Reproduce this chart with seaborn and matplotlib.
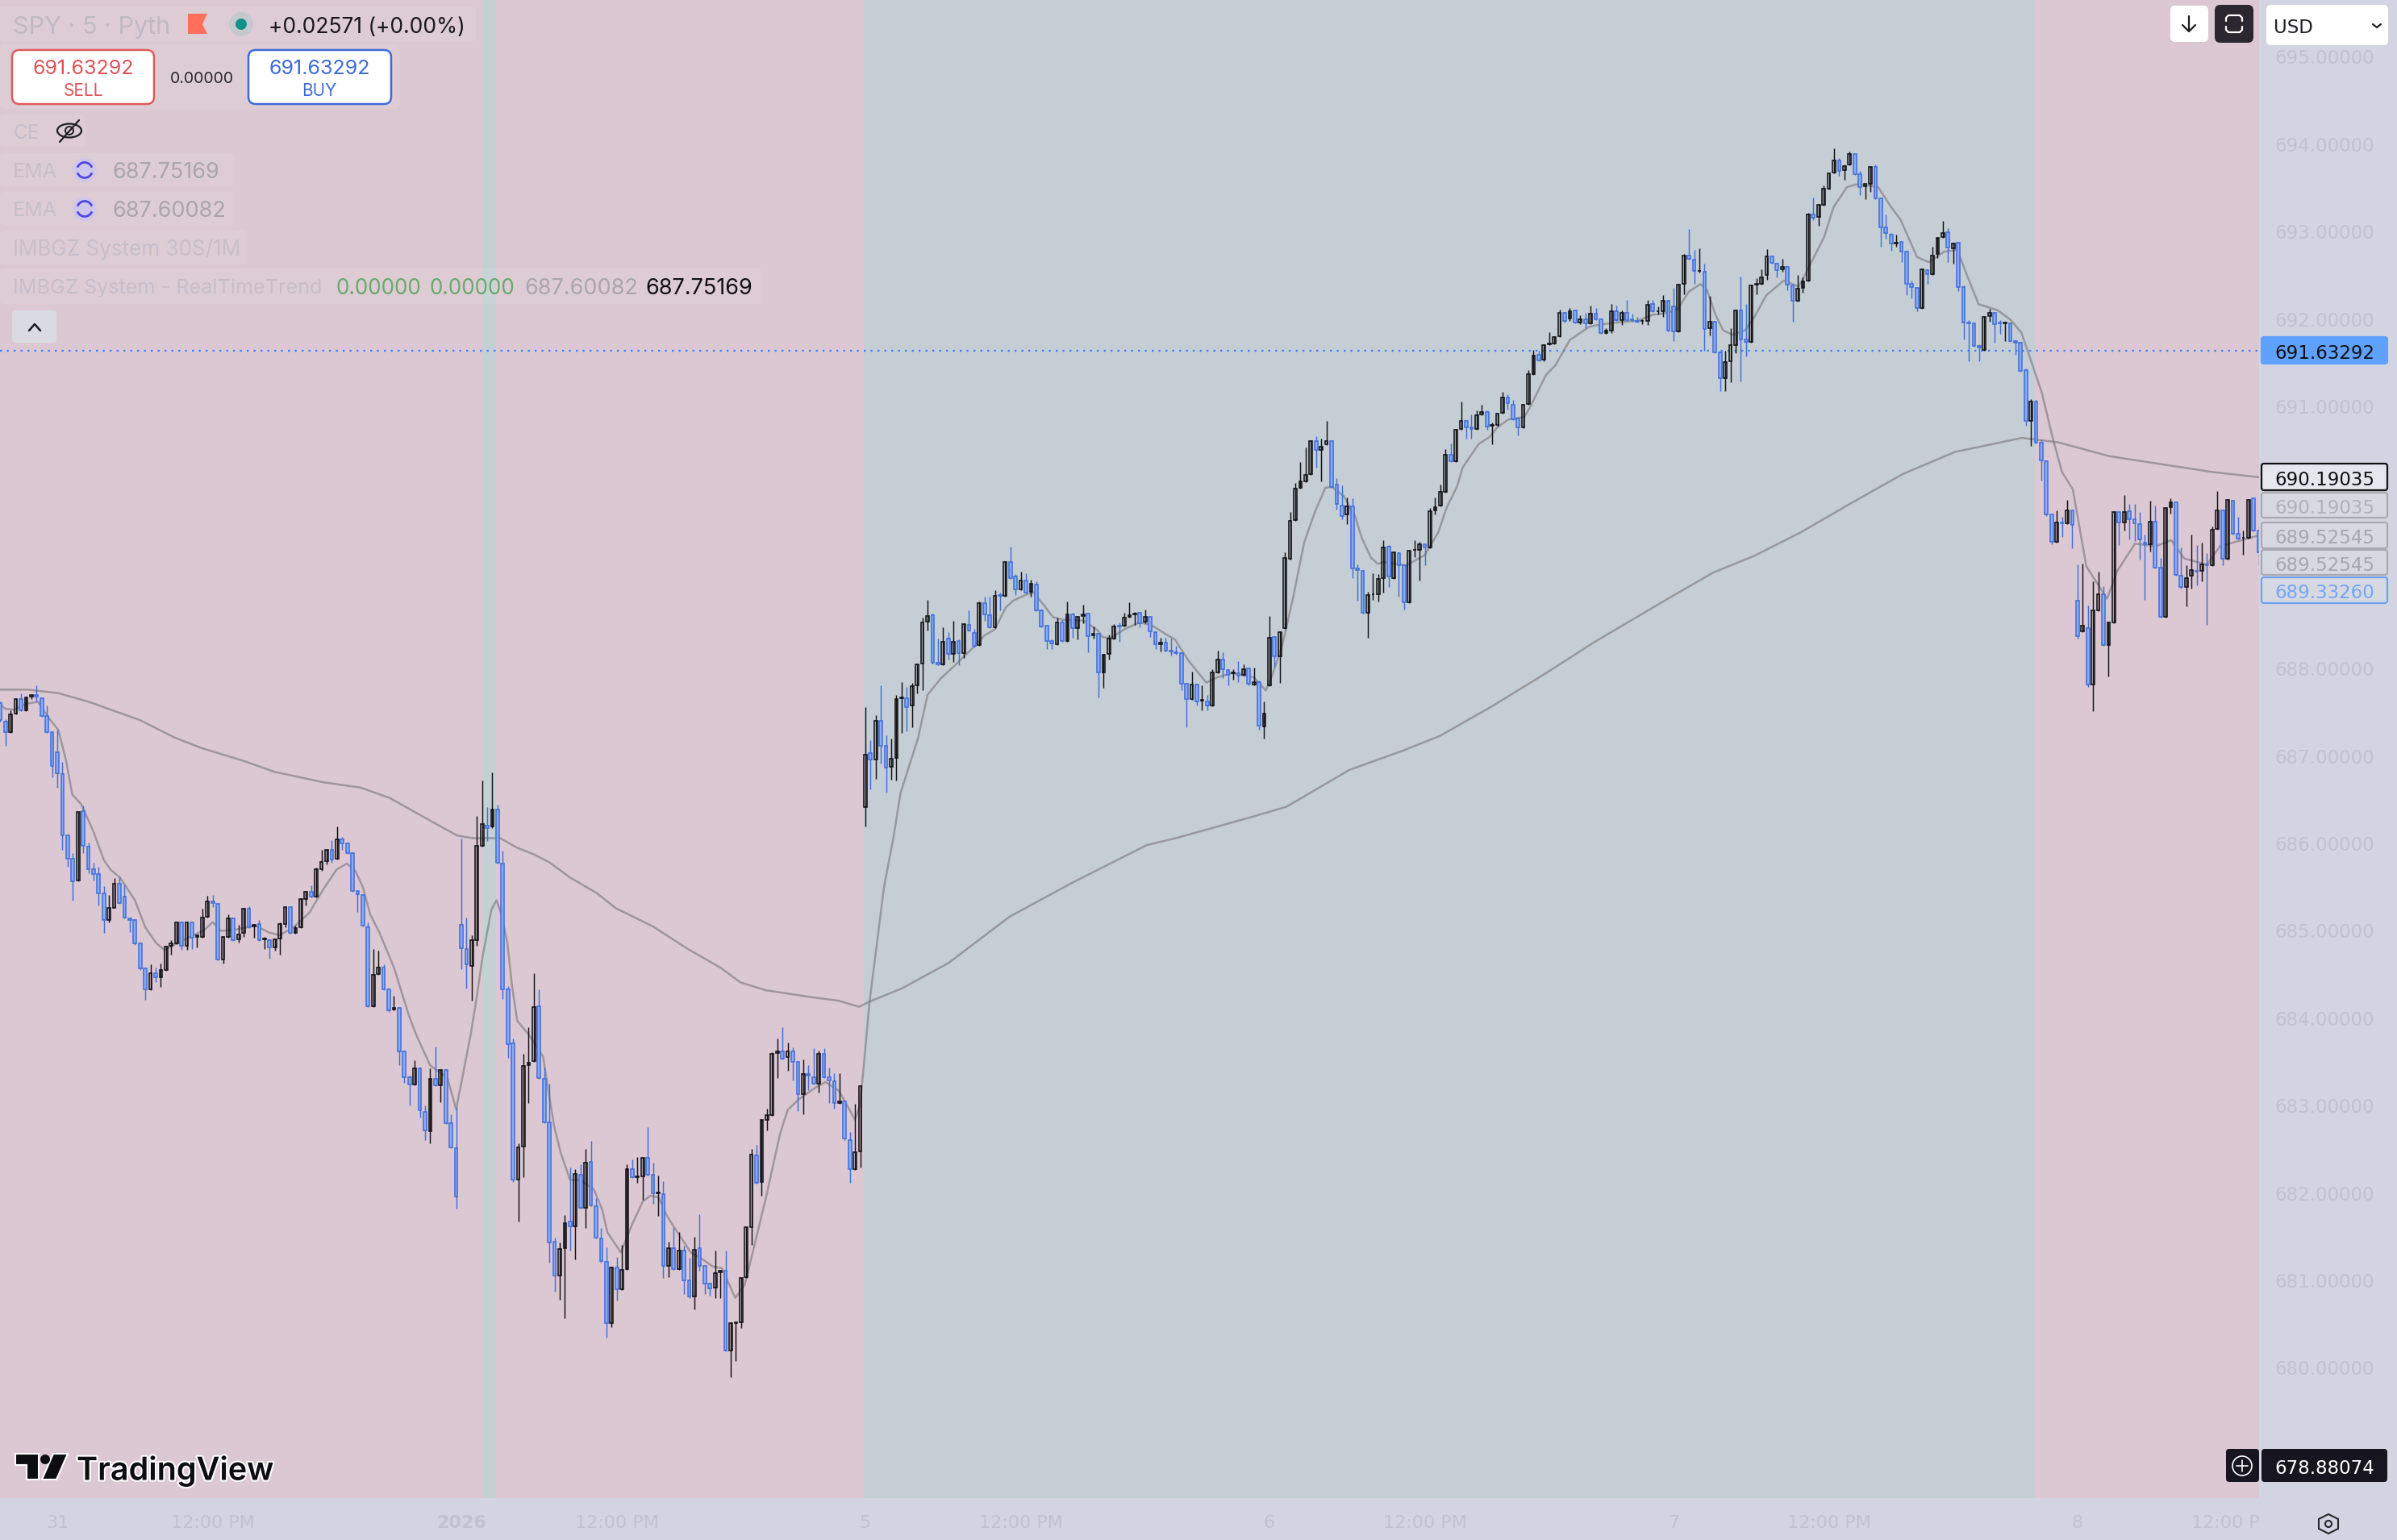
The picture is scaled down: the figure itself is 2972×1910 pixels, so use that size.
import numpy as np
import matplotlib
matplotlib.use("Agg")
import matplotlib.pyplot as plt
import matplotlib.patheffects as pe
from matplotlib.patches import FancyBboxPatch, Circle, Polygon, Ellipse, Arc
from matplotlib.transforms import Bbox
import seaborn as sns

# 5 minute bars
opens = [
    687.61,687.39,687.27,687.49,687.65,687.52,687.68,687.70,687.66,687.46,
    687.27,687.04,686.79,686.09,685.83,685.58,686.37,685.96,685.71,685.65,
    685.43,685.12,685.26,685.54,685.39,685.14,685.12,684.86,684.57,684.33,
    684.52,684.47,684.55,684.83,684.86,685.10,684.83,685.10,684.93,684.93,
    685.16,685.34,685.31,684.67,684.93,685.14,684.90,684.98,685.25,685.05,
    685.08,684.90,684.89,684.81,684.91,685.08,685.27,684.98,685.04,685.36,
    685.45,685.39,685.71,685.80,685.93,685.83,686.05,686.00,685.89,685.46,
    685.41,685.04,684.14,684.51,684.58,684.33,684.10,684.12,683.62,683.33,
    683.24,683.43,682.93,682.71,683.31,683.23,683.41,682.80,682.51,685.07,
    684.79,684.60,684.89,685.97,686.20,686.19,686.39,685.77,684.33,683.71,
    682.15,682.53,683.46,683.51,684.14,683.31,682.81,681.44,681.06,681.37,
    681.67,681.62,682.21,681.83,682.36,681.85,681.48,681.21,680.51,681.15,
    680.90,681.13,682.27,682.18,682.19,682.40,682.21,682.00,681.99,681.17,
    681.37,681.13,681.34,681.00,680.82,681.37,681.17,680.96,680.92,681.09,
    681.11,680.20,680.51,680.52,681.04,681.61,682.43,682.13,682.84,682.89,
    683.60,683.62,683.56,683.62,683.50,683.13,683.36,683.33,683.25,683.59,
    683.33,683.28,683.03,683.05,682.61,682.27,682.48,686.42,687.03,686.96,
    687.40,687.12,686.88,686.98,687.66,687.66,687.58,687.81,688.06,688.54,
    688.61,688.07,688.05,688.34,688.17,688.32,688.18,688.50,688.41,688.27,
    688.75,688.61,688.47,688.84,688.83,689.22,689.05,688.91,689.01,688.88,
    688.96,688.67,688.49,688.32,688.28,688.53,688.32,688.62,688.46,688.60,
    688.63,688.38,688.40,687.96,688.17,688.34,688.49,688.49,688.59,688.62,
    688.64,688.54,688.59,688.42,688.28,688.30,688.21,688.19,688.18,687.83,
    687.65,687.82,687.63,687.62,687.58,687.96,688.10,687.98,687.95,687.95,
    687.93,688.00,687.82,687.85,687.34,687.81,688.36,688.14,688.46,689.26,
    689.70,690.07,690.14,690.23,690.60,690.50,690.57,690.60,690.11,689.87,
    689.76,689.86,689.15,689.12,688.64,688.85,688.85,689.04,689.40,689.04,
    689.32,689.18,688.76,689.36,689.36,689.42,689.39,689.81,689.87,690.02,
    690.45,690.37,690.74,690.83,690.76,690.74,690.91,690.94,690.78,690.79,
    690.93,691.10,691.02,690.86,690.76,691.03,691.37,691.59,691.54,691.71,
    691.72,691.80,692.07,692.01,692.10,691.96,692.00,691.95,692.06,692.00,
    691.84,691.87,692.09,691.99,692.07,692.00,691.98,691.98,691.98,692.17,
    692.09,692.09,692.21,692.14,691.86,692.40,692.73,692.68,692.55,692.54,
    691.90,691.97,691.62,691.32,691.52,691.70,692.10,691.77,691.74,692.39,
    692.40,692.50,692.72,692.63,692.57,692.60,692.38,692.21,692.36,692.44,
    693.20,693.17,693.31,693.49,693.68,693.81,693.70,693.77,693.89,693.66,
    693.52,693.55,693.74,693.38,693.05,692.97,692.86,692.88,692.77,692.40,
    692.36,692.13,692.56,692.51,692.74,692.94,692.99,692.81,692.87,692.37,
    691.96,691.95,691.69,691.65,692.03,692.07,691.96,691.95,691.95,691.75,
    691.73,691.42,690.83,691.06,690.59,690.37,689.76,689.45,689.67,689.66,
    689.81,688.78,688.43,688.46,687.82,688.67,688.85,688.27,688.53,689.79,
    689.67,689.80,689.71,689.65,689.44,689.42,689.68,689.16,688.59,689.85,
    689.90,689.06,688.93,689.06,689.12,689.12,689.19,689.18,689.60,689.81,
    689.26,689.92,689.54,689.50,689.50,689.95,689.58,
]
highs = [
    687.62,687.42,687.52,687.66,687.72,687.68,687.71,687.81,687.67,687.58,
    687.27,687.30,686.93,686.10,685.89,686.36,686.43,686.01,685.78,685.73,
    685.51,685.41,685.60,685.61,685.53,685.15,685.13,684.87,684.58,684.62,
    684.58,684.63,684.83,684.89,685.10,685.11,685.11,685.11,684.96,685.25,
    685.40,685.41,685.32,684.94,685.19,685.15,685.07,685.26,685.28,685.08,
    685.12,684.93,684.90,684.91,685.10,685.28,685.28,685.06,685.37,685.46,
    685.52,685.72,685.93,685.94,686.04,686.19,686.07,686.01,685.90,685.47,
    685.42,685.10,684.79,684.77,684.62,684.34,684.26,684.13,683.63,683.34,
    683.52,683.44,683.00,683.43,683.68,683.42,683.42,682.90,682.98,686.06,
    685.15,684.95,686.31,686.72,686.42,686.81,686.44,685.92,684.37,683.77,
    682.57,683.59,683.90,684.52,684.33,683.44,683.25,681.49,681.43,681.75,
    682.29,682.27,682.33,682.50,682.60,681.94,681.60,681.38,681.16,681.27,
    681.41,682.33,682.38,682.41,682.41,682.75,682.35,682.20,682.14,681.44,
    681.61,681.55,681.40,681.26,681.50,681.76,681.18,680.97,681.34,681.12,
    681.34,680.52,680.53,681.04,681.62,682.50,682.55,682.85,682.97,683.61,
    683.77,683.90,683.72,683.67,683.51,683.53,683.46,683.66,683.63,683.66,
    683.44,683.37,683.37,683.06,682.70,683.02,683.23,687.56,687.18,687.47,
    687.81,687.24,687.20,687.70,687.85,687.79,687.84,688.06,688.58,688.79,
    688.63,688.34,688.47,688.42,688.55,688.33,688.52,688.67,688.45,688.77,
    688.82,688.82,688.90,688.87,689.23,689.40,689.08,689.11,689.09,689.02,
    689.00,688.68,688.50,688.33,688.58,688.56,688.77,688.64,688.60,688.73,
    688.64,688.48,688.41,688.17,688.39,688.51,688.53,688.64,688.76,688.65,
    688.65,688.68,688.60,688.43,688.35,688.35,688.34,688.26,688.19,687.84,
    687.97,687.83,687.81,687.70,687.99,688.21,688.19,687.99,687.99,688.09,
    688.05,688.01,688.01,687.86,687.62,688.60,688.37,688.43,689.33,689.79,
    690.12,690.36,690.53,690.61,690.66,690.63,690.83,690.61,690.18,690.10,
    689.96,689.95,689.19,689.13,688.88,689.09,689.08,689.47,689.41,689.34,
    689.33,689.19,689.36,689.47,689.45,689.43,689.84,689.96,690.11,690.51,
    690.58,690.74,691.06,690.84,690.91,690.95,691.02,690.95,690.82,690.93,
    691.17,691.14,691.07,690.87,691.03,691.42,691.65,691.64,691.71,691.85,
    691.80,692.11,692.08,692.13,692.11,692.04,692.07,692.15,692.13,692.01,
    691.90,692.17,692.15,692.10,692.22,692.06,692.02,692.00,692.22,692.22,
    692.14,692.27,692.22,692.36,692.40,692.74,693.03,692.79,692.81,692.63,
    692.26,691.98,691.63,691.64,691.90,692.11,692.49,692.17,692.39,692.47,
    692.57,692.80,692.73,692.64,692.69,692.61,692.39,692.50,692.48,693.21,
    693.39,693.32,693.53,693.68,693.95,693.84,693.77,693.92,693.90,693.69,
    693.56,693.75,693.77,693.39,693.20,692.98,692.97,692.89,692.78,692.44,
    692.37,692.58,692.57,692.83,692.94,693.12,693.04,692.87,692.88,692.38,
    691.99,691.96,691.71,692.03,692.12,692.08,691.99,691.97,691.96,691.76,
    691.74,691.43,691.08,691.07,690.62,690.38,689.77,689.81,689.74,689.93,
    689.82,689.19,689.20,688.72,689.00,689.11,688.94,688.54,689.80,689.80,
    689.99,689.88,689.88,689.79,689.53,689.92,689.87,689.27,689.85,689.95,
    689.91,689.39,689.18,689.53,689.41,689.44,689.32,689.63,690.03,689.82,
    689.94,689.93,689.74,689.58,689.94,689.96,689.59,
]
lows = [
    687.39,687.12,687.26,687.48,687.51,687.51,687.65,687.62,687.45,687.26,
    686.76,686.64,685.93,685.73,685.35,685.57,685.89,685.66,685.58,685.29,
    684.98,685.10,685.26,685.31,685.14,684.99,684.84,684.55,684.21,684.32,
    684.41,684.36,684.54,684.73,684.85,684.78,684.78,684.79,684.81,684.92,
    685.15,685.27,684.66,684.63,684.92,684.88,684.87,684.93,685.03,684.92,
    684.88,684.79,684.68,684.77,684.73,685.04,684.97,684.97,685.03,685.29,
    685.38,685.38,685.69,685.76,685.78,685.82,685.93,685.88,685.45,685.22,
    685.05,684.13,684.13,684.50,684.32,684.07,684.09,683.46,683.26,683.00,
    683.23,682.86,682.61,682.57,683.22,683.04,682.79,682.51,681.82,684.56,
    684.34,684.20,684.83,685.96,686.03,686.18,685.77,684.22,683.55,682.13,
    681.67,682.18,683.03,683.50,683.31,682.80,681.20,680.87,680.78,680.57,
    681.34,681.24,681.82,681.60,681.85,681.48,681.20,680.35,680.47,680.77,
    680.89,681.12,682.17,682.12,681.92,682.20,681.88,681.74,681.03,681.04,
    681.12,681.12,680.84,680.80,680.67,681.11,680.84,680.83,680.80,680.80,
    680.19,679.89,680.08,680.46,681.03,681.41,682.11,681.97,682.72,682.88,
    683.32,683.53,683.40,683.29,682.94,682.90,683.18,683.24,683.15,683.32,
    683.03,682.97,683.02,682.61,682.12,682.26,682.29,686.19,686.62,686.74,
    686.91,686.58,686.73,686.72,687.26,687.28,687.33,687.72,687.75,688.44,
    688.06,688.04,688.04,688.10,688.08,688.04,688.12,688.43,688.24,688.26,
    688.55,688.46,688.46,688.67,688.82,689.03,688.84,688.90,688.86,688.82,
    688.66,688.47,688.22,688.22,688.27,688.31,688.31,688.35,688.33,688.52,
    688.19,688.34,687.67,687.78,688.10,688.33,688.31,688.48,688.58,688.50,
    688.47,688.52,688.36,688.22,688.20,688.20,688.15,688.16,687.75,687.33,
    687.64,687.58,687.52,687.52,687.57,687.95,687.89,687.81,687.87,687.85,
    687.92,687.81,687.81,687.30,687.20,687.80,688.02,687.84,688.45,689.25,
    689.69,690.06,690.13,690.22,690.30,690.14,690.56,690.07,689.82,689.71,
    689.65,689.04,688.78,688.63,688.35,688.79,688.77,688.87,688.93,689.03,
    688.82,688.68,688.75,689.28,689.01,689.18,689.38,689.76,689.86,690.01,
    690.36,690.36,690.73,690.63,690.63,690.73,690.90,690.73,690.57,690.77,
    690.92,690.96,690.84,690.67,690.75,691.02,691.36,691.52,691.52,691.70,
    691.71,691.79,691.96,691.98,691.95,691.94,691.90,691.94,691.99,691.83,
    691.83,691.84,691.98,691.93,691.98,691.97,691.96,691.94,691.93,692.08,
    692.05,692.02,691.86,691.75,691.85,692.28,692.68,692.40,692.53,691.64,
    691.81,691.61,691.18,691.18,691.28,691.61,691.29,691.57,691.73,692.28,
    692.39,692.45,692.63,692.48,692.54,692.33,691.97,692.20,692.30,692.43,
    693.13,693.07,693.30,693.48,693.67,693.64,693.59,693.76,693.65,693.42,
    693.37,693.45,693.37,692.83,692.92,692.78,692.83,692.65,692.27,692.24,
    692.09,692.12,692.40,692.50,692.70,692.93,692.65,692.63,692.32,691.77,
    691.52,691.68,691.52,691.64,691.97,691.73,691.83,691.75,691.74,691.59,
    691.40,690.78,690.55,690.58,690.15,689.75,689.42,689.44,689.51,689.65,
    689.38,688.34,688.42,687.79,687.51,688.66,688.26,687.91,688.52,689.41,
    689.58,689.48,689.46,689.25,688.79,689.34,689.15,688.58,688.58,689.77,
    689.06,688.92,688.71,688.92,688.95,689.00,688.50,689.17,689.59,689.18,
    689.25,689.53,689.48,689.30,689.49,689.57,689.18,
]
closes = [
    687.41,687.27,687.48,687.65,687.52,687.67,687.70,687.68,687.46,687.27,
    686.89,686.80,686.09,685.83,685.57,686.36,685.97,685.71,685.65,685.43,
    685.12,685.26,685.54,685.32,685.15,685.12,684.86,684.57,684.33,684.52,
    684.47,684.55,684.82,684.86,685.10,684.83,685.10,684.92,684.95,685.15,
    685.34,685.32,684.67,684.93,685.14,684.89,684.96,685.25,685.04,685.07,
    684.89,684.91,684.81,684.90,685.08,685.27,684.98,685.03,685.36,685.45,
    685.39,685.71,685.79,685.93,685.82,686.05,686.00,685.89,685.46,685.42,
    685.06,684.14,684.50,684.58,684.33,684.09,684.12,683.62,683.33,683.24,
    683.43,682.95,682.72,683.31,683.23,683.41,682.80,682.52,681.96,684.80,
    684.62,684.89,685.97,686.22,686.18,686.39,685.78,684.33,683.70,682.15,
    682.52,683.45,683.49,684.13,683.32,682.81,681.43,681.06,681.36,681.66,
    681.62,682.22,681.83,682.35,681.86,681.49,681.22,680.51,681.15,680.90,
    681.12,682.27,682.18,682.19,682.40,682.21,682.00,682.01,681.17,681.37,
    681.13,681.34,681.00,680.82,681.35,681.17,680.96,680.91,681.08,681.11,
    680.20,680.51,680.52,681.03,681.61,682.44,682.12,682.84,682.89,683.59,
    683.62,683.54,683.62,683.50,683.13,683.36,683.34,683.25,683.59,683.33,
    683.29,683.03,683.05,682.62,682.27,682.47,683.22,687.02,686.96,687.40,
    687.12,686.87,686.97,687.65,687.67,687.56,687.80,688.05,688.53,688.60,
    688.07,688.05,688.31,688.17,688.31,688.18,688.51,688.44,688.26,688.75,
    688.62,688.47,688.83,688.83,689.22,689.04,688.91,689.01,688.87,688.97,
    688.67,688.48,688.32,688.29,688.53,688.32,688.62,688.46,688.59,688.62,
    688.37,688.40,687.96,688.16,688.34,688.48,688.48,688.58,688.61,688.63,
    688.52,688.59,688.43,688.28,688.30,688.21,688.20,688.18,687.83,687.65,
    687.82,687.62,687.64,687.58,687.96,688.10,687.99,687.93,687.96,687.92,
    687.99,687.83,687.85,687.35,687.49,688.35,688.14,688.42,689.27,689.69,
    690.06,690.14,690.22,690.60,690.50,690.54,690.60,690.08,689.88,689.75,
    689.86,689.15,689.13,688.64,688.84,688.85,689.03,689.39,689.05,689.33,
    689.18,688.76,689.35,689.36,689.42,689.39,689.80,689.85,690.02,690.45,
    690.37,690.73,690.83,690.76,690.74,690.90,690.94,690.77,690.79,690.92,
    691.10,691.04,690.85,690.76,691.02,691.37,691.58,691.53,691.70,691.72,
    691.79,692.07,691.98,692.09,691.96,692.00,691.95,692.06,692.00,691.84,
    691.87,692.09,691.99,692.07,691.99,691.99,691.97,691.98,692.16,692.09,
    692.09,692.21,691.87,691.86,692.39,692.73,692.69,692.55,692.55,691.89,
    691.97,691.62,691.32,691.51,691.70,692.10,691.77,691.74,692.38,692.40,
    692.48,692.72,692.64,692.56,692.60,692.39,692.21,692.35,692.43,693.20,
    693.16,693.31,693.49,693.67,693.81,693.69,693.75,693.89,693.66,693.51,
    693.55,693.74,693.38,693.05,692.98,692.86,692.87,692.77,692.40,692.37,
    692.13,692.57,692.51,692.73,692.93,692.98,692.82,692.86,692.37,691.96,
    691.95,691.69,691.67,692.02,692.07,691.94,691.95,691.96,691.75,691.73,
    691.41,690.83,691.06,690.59,690.38,689.76,689.45,689.67,689.66,689.81,
    689.64,688.37,688.49,687.82,688.67,688.85,688.27,688.53,689.79,689.67,
    689.79,689.71,689.66,689.48,689.42,689.68,689.16,688.59,689.84,689.90,
    689.07,688.93,689.04,689.13,689.11,689.19,689.18,689.59,689.81,689.26,
    689.93,689.54,689.49,689.50,689.93,689.58,689.33,
]

# the two EMA lines, read at their bends (bar number, price)
slow_bars = [0,5.2,11.2,17.1,27,33.7,38.9,46.7,52.9,62.3,69.5,75.2,80.9,88.2,91.3,96.5,99.8,103.2,
             106.1,110,115.2,118.8,126,132.8,139,142.9,147.8,156.7,161.9,165.8,167.8,174,183,194.8,
             206.6,221.3,226.9,236,242,248.3,260.4,270.7,277.9,288,297.9,307.9,322.8,330.7,338.6,
             347.6,357.5,367.4,377.4,390.3,397.2,407.2,417.1,427,436]
slow_vals = [687.76,687.76,687.72,687.62,687.41,687.21,687.09,686.95,686.82,686.70,686.64,686.52,686.33,
             686.09,686.06,686.06,685.95,685.87,685.78,685.61,685.43,685.26,685.05,684.79,684.58,684.41,
             684.32,684.24,684.20,684.13,684.19,684.34,684.63,685.16,685.54,685.98,686.06,686.21,686.31,
             686.42,686.84,687.06,687.23,687.57,687.93,688.31,688.83,689.10,689.29,689.56,689.90,690.23,
             690.48,690.64,690.59,690.43,690.34,690.25,690.19]
fast_bars = [0,1,2.6,5.2,7.3,9.3,11.2,12.7,13.9,15.6,17.9,20,21.3,23.1,26,28,30.1,31.7,33.2,39.4,41,42.6,
             45,49.3,51.9,54,57,59.7,62.3,64.9,66.9,68.5,70,71.4,73.2,76,78.9,80.3,83,86.3,88,89,90.8,
             91.9,93.1,94.8,95.8,96.7,97.9,98.8,99.8,102.2,104.8,105.5,106.9,108.2,110,112,114.6,116.2,
             117.2,119.8,121.9,124,125.5,127.1,128.7,130.2,133.3,135.9,137.5,139.3,141.9,143.7,145.5,
             147.9,150.5,152,154.1,157.2,159.3,161.9,165,166,167,167.8,170.6,172.4,173.8,177.2,179,181.6,
             184.5,187.8,190,192,194.1,195.6,198.2,199.5,201.4,203.2,205,209.1,211.8,212.8,214.4,217,220,
             222.4,226.8,229.4,232.8,234.9,237.8,242,244.3,245.4,247.5,249.6,251.7,253.7,255.8,257.1,
             259.4,261.5,262.8,264.6,265.9,267.2,271.4,275,277.6,279.2,281.2,282.3,285.4,287.5,289,291.1,
             294.2,295.3,298.4,300.2,303,306.7,308.2,311.9,316,319.1,321.7,323.8,325.9,328.2,329.5,331.1,
             332.6,334.4,336.8,338.6,340.9,344.3,347.2,349.2,352.1,353.9,356.5,358.3,360.1,362.5,364.8,
             366.9,370,372.3,375.2,377.8,379.6,381.9,385.6,388.1,390.2,391.8,394.1,396.2,398,400.1,402.7,
             406.7,408.7,412.1,416.1,419.1,421.6,426,428.5,436]
fast_vals = [687.59,687.54,687.53,687.60,687.62,687.44,687.30,686.95,686.56,686.45,686.15,685.81,685.70,
             685.61,685.35,685.04,684.86,684.78,684.83,685.01,685.10,685.00,685.01,685.06,684.98,684.95,
             685.06,685.21,685.47,685.70,685.77,685.69,685.50,685.19,684.98,684.58,684.03,683.81,683.46,
             683.32,682.96,683.26,683.81,684.21,684.70,685.24,685.35,685.20,684.86,684.37,683.97,683.80,
             683.56,683.29,682.77,682.46,682.15,682.15,682.04,681.81,681.55,681.32,681.63,681.90,681.97,
             681.95,681.74,681.60,681.32,681.23,681.16,681.14,680.80,680.95,681.38,681.97,682.67,682.95,
             683.07,683.20,683.27,683.17,682.84,683.01,683.66,684.18,685.50,686.06,686.58,687.21,687.70,
             687.89,688.05,688.24,688.38,688.45,688.70,688.78,688.85,688.87,688.73,688.59,688.56,688.55,
             688.44,688.36,688.35,688.45,688.53,688.49,688.33,688.09,687.84,687.90,687.95,687.90,687.75,
             687.90,688.27,688.82,689.44,689.78,690.07,690.08,689.97,689.75,689.50,689.27,689.20,689.22,
             689.18,689.30,689.56,689.84,690.08,690.30,690.57,690.65,690.76,690.85,690.88,690.99,691.36,
             691.47,691.76,691.91,691.93,691.96,691.98,692.05,692.07,692.11,692.31,692.40,692.33,692.05,
             691.87,691.82,691.87,692.02,692.27,692.44,692.37,692.60,692.94,693.28,693.51,693.54,693.53,
             693.51,693.30,693.13,692.71,692.65,692.77,692.79,692.51,692.17,692.10,691.99,691.84,691.56,
             691.16,690.64,690.25,690.05,689.17,688.80,689.12,689.43,689.40,689.47,689.26,689.19,689.40,
             689.525]

band_edges = [-1, 93.0, 95.7, 166.7, 392.7, 437]
band_colors = ["#dcc8d2", "#c4d0d4", "#dcc8d2", "#c5ced4", "#dcc8d2"]

price_ticks = [680, 681, 682, 683, 684, 685, 686, 687, 688, 691, 692, 693, 694, 695]
time_ticks = [11, 41, 89, 119, 167, 197, 245, 275, 323, 353, 401, 431]
time_labels = ["31", "12:00 PM", "2026", "12:00 PM", "5", "12:00 PM", "6", "12:00 PM", "7", "12:00 PM", "8", "12:00 PM"]
last_price = 691.63292

sns.set_theme(style="white")
plt.rcParams["font.family"] = ["Inter", "DejaVu Sans"]

UP = "#111114"
DOWN = "#3f6fe0"
AXIS_BG = "#d2d5e1"
TICK_TXT = "#c0c3cf"

fig = plt.figure(figsize=(29.72, 19.10), dpi=100, facecolor=AXIS_BG)
ax = fig.add_axes([0, 1 - 1858 / 1910, 2801 / 2972, 1858 / 1910])

o = np.array(opens)
h = np.array(highs)
l = np.array(lows)
c = np.array(closes)
bars = np.arange(len(c))
up = c >= o

for i, col in enumerate(band_colors):
    ax.axvspan(band_edges[i], band_edges[i + 1], color=col, lw=0, zorder=0)

ax.axhline(last_price, color="#3f7dff", lw=1.7, ls=(0, (1, 2.6)), zorder=1)

sns.lineplot(x=fast_bars, y=fast_vals, ax=ax, color="#7d7b80", lw=1.8, alpha=0.65, errorbar=None, zorder=2)
sns.lineplot(x=slow_bars, y=slow_vals, ax=ax, color="#7d7b80", lw=1.8, alpha=0.65, errorbar=None, zorder=2)

# blue first, black sits on top
ax.vlines(bars[~up], l[~up], h[~up], color=DOWN, lw=1.05, zorder=3)
ax.bar(bars[~up], (c - o)[~up], bottom=o[~up], width=0.58, facecolor="#8fadee", edgecolor=DOWN, lw=1.15, zorder=4)
ax.vlines(bars[up], l[up], h[up], color=UP, lw=1.05, zorder=5)
ax.bar(bars[up], (c - o)[up], bottom=o[up], width=0.58, facecolor="none", edgecolor=UP, lw=1.15, zorder=6)

ax.set_xlim(-0.05, 436.05)
ax.set_ylim(678.51, 695.65)
ax.yaxis.tick_right()
ax.set_yticks(price_ticks, [f"{p:.5f}" for p in price_ticks])
ax.set_xticks(time_ticks, time_labels)
ax.tick_params(axis="y", length=0, pad=14, labelsize=16.5, labelcolor=TICK_TXT)
ax.tick_params(axis="x", length=0, pad=15, labelsize=16, labelcolor=TICK_TXT)
for t in ax.get_yticklabels():
    t.set_family("DejaVu Sans")
for t in ax.get_xticklabels():
    t.set_family("DejaVu Sans")
    t.set_clip_on(True)
    t.set_clip_box(Bbox([[0, 0], [2801, 1910]]))
    if t.get_text() == "2026":
        t.set_fontweight("bold")
for s in ax.spines.values():
    s.set_visible(False)

# everything the terminal paints on top of the chart, in picture pixels
ui = fig.add_axes([0, 0, 1, 1], zorder=5)
ui.set_xlim(0, 2972)
ui.set_ylim(1910, 0)
ui.axis("off")


def box(x0, y0, x1, y1, fc, ec="none", lw=0, r=4, alpha=None, z=2):
    ui.add_patch(FancyBboxPatch((x0, y0), x1 - x0, y1 - y0, boxstyle=f"round,pad=0,rounding_size={r}",
                                fc=fc, ec=ec, lw=lw, alpha=alpha, zorder=z))


def label(x, y, s, size=16, color="#111", ha="left", weight="normal", family="Inter", z=5):
    return ui.text(x, y, s, fontsize=size, color=color, ha=ha, va="center_baseline", fontweight=weight,
                   family=family, zorder=z)


# legend rows
for x1, y0, y1 in [(590, 8, 52), (495, 55, 135), (105, 142, 182), (290, 190, 232), (290, 238, 280),
                   (305, 286, 328), (945, 333, 377)]:
    box(0, y0, x1, y1, "white", alpha=0.08, r=6, z=1)

label(16, 31, "SPY · 5 · Pyth", size=22, color="#bfbac4")
ui.add_patch(Polygon([(233, 17), (257, 17), (251, 30), (257, 42), (233, 42)], fc="#ff6f5c", ec="none", zorder=4))
ui.add_patch(Circle((299, 30), 15, fc="#c6c8d0", ec="none", zorder=3))
ui.add_patch(Circle((299, 30), 7, fc="#0f9187", ec="none", zorder=4))
label(333, 31, "+0.02571 (+0.00%)", size=19, color="#17171c")

box(15, 62, 191, 129, "white", ec="#e05a5f", lw=1.8, r=9, z=3)
label(103, 83, "691.63292", size=18, color="#dd5357", ha="center")
label(103, 111, "SELL", size=15, color="#dd5357", ha="center")
label(250, 96, "0.00000", size=14, color="#26262c", ha="center")
box(308, 62, 485, 129, "white", ec="#3d6ad6", lw=1.8, r=9, z=3)
label(396, 83, "691.63292", size=18, color="#3d6ad6", ha="center")
label(396, 111, "BUY", size=15, color="#3d6ad6", ha="center")

label(16, 163, "CE", size=17.5, color="#c6bfca")
ui.add_patch(Ellipse((86, 162), 30, 17, fc="none", ec="#1e1e24", lw=1.6, zorder=4))
ui.add_patch(Circle((86, 162), 5, fc="none", ec="#1e1e24", lw=1.4, zorder=4))
ui.plot([74, 98], [176, 149], color="#1e1e24", lw=1.6, zorder=4)

for y, val in [(211, "687.75169"), (259, "687.60082")]:
    label(16, y, "EMA", size=18, color="#c6bfca")
    ui.add_patch(Circle((105, y), 15, fc="#cfc7ea", ec="none", zorder=3))
    ui.add_patch(Arc((105, y), 19, 19, theta1=200, theta2=340, color="#5146e6", lw=2, zorder=4))
    ui.add_patch(Arc((105, y), 19, 19, theta1=20, theta2=160, color="#5146e6", lw=2, zorder=4))
    label(139, y, val, size=19.5, color="#a9a5ad")

label(16, 307, "IMBGZ System 30S/1M", size=18.8, color="#c6bfca")
label(16, 355, "IMBGZ System - RealTimeTrend", size=18.1, color="#c6bfca")
label(417, 355, "0.00000", size=18.8, color="#68aa6d")
label(533, 355, "0.00000", size=18.8, color="#68aa6d")
label(650, 355, "687.60082", size=19.5, color="#a9a5ad")
label(800, 355, "687.75169", size=19.5, color="#101014")
box(15, 385, 70, 425, "#dadae2", r=4, z=3)
ui.plot([36, 43, 50], [410, 402, 410], color="#1b1b20", lw=1.8, zorder=4)

# top right buttons
box(2691, 7, 2738, 52, "white", r=6, z=6)
ui.plot([2714, 2714], [20, 38], color="#1b1b20", lw=1.6, zorder=7)
ui.plot([2706, 2714, 2722], [31, 39, 31], color="#1b1b20", lw=1.6, zorder=7)
box(2746, 6, 2794, 53, "#2b2730", r=7, z=6)
ui.plot([2760, 2760, 2763, 2777, 2780, 2780], [26, 22, 19, 19, 22, 26], color="white", lw=1.6, zorder=7)
ui.plot([2760, 2760, 2763, 2777, 2780, 2780], [33, 37, 40, 40, 37, 33], color="white", lw=1.6, zorder=7)
box(2810, 6, 2961, 56, "white", r=6, z=6)
label(2819, 32, "USD", size=16.5, color="#1f1f26", family="DejaVu Sans", z=7)
ui.plot([2942, 2947, 2952], [30, 34, 30], color="#1f1f26", lw=1.6, zorder=7)

# price tags
tags = [(418, 451, "691.63292", "#5fa1ff", "#5fa1ff", "#101014"),
        (575, 608, "690.19035", "#e6e7ee", "#111114", "#111114"),
        (611, 642, "690.19035", "#d6d8e2", "#a9a9b2", "#b0b1ba"),
        (648, 680, "689.52545", "#d6d8e2", "#a9a9b2", "#a6a7b0"),
        (682, 713, "689.52545", "#d6d8e2", "#a9a9b2", "#a6a7b0"),
        (716, 748, "689.33260", "#d6d8e2", "#6ea2f0", "#74a6f5")]
for y0, y1, txt, fc, ec, tc in tags:
    box(2804, y0, 2960, y1, fc, ec=ec, lw=1.6, r=3, z=3)
    label(2882, (y0 + y1) / 2 + 1, txt, size=16.5, color=tc, ha="center", family="DejaVu Sans")

# crosshair tag
box(2760, 1797, 2801, 1838, "#17151f", r=4, z=3)
ui.add_patch(Circle((2780, 1818), 12, fc="none", ec="white", lw=1.2, zorder=4))
ui.plot([2773, 2787], [1818, 1818], color="white", lw=1.2, zorder=4)
ui.plot([2780, 2780], [1811, 1825], color="white", lw=1.2, zorder=4)
box(2804, 1797, 2960, 1838, "#17151f", r=4, z=3)
label(2882, 1819, "678.88074", size=16.5, color="white", ha="center", family="DejaVu Sans")

# logo
halo = [pe.withStroke(linewidth=3, foreground="white")]
for pts in ([(19, 1803), (48, 1803), (48, 1835), (33, 1835), (33, 1817), (19, 1817)],
            [(66, 1803), (84, 1803), (70, 1835), (52, 1835)]):
    ui.add_patch(Polygon(pts, fc="#0d0d10", ec="white", lw=1.5, zorder=4))
ui.add_patch(Circle((56, 1810), 6, fc="#0d0d10", ec="none", zorder=4))
logo = label(95, 1820, "TradingView", size=28.5, color="#0d0d10", weight="semibold")
logo.set_path_effects(halo)

# gear at the bottom right
ui.add_patch(Polygon([(2887, 1878), (2899, 1884), (2899, 1896), (2887, 1902), (2875, 1896), (2875, 1884)],
                     fc="none", ec="#26262c", lw=1.5, zorder=4))
ui.add_patch(Circle((2887, 1890), 4, fc="none", ec="#26262c", lw=1.5, zorder=4))

fig.savefig("out.png", dpi=100, facecolor=AXIS_BG)
